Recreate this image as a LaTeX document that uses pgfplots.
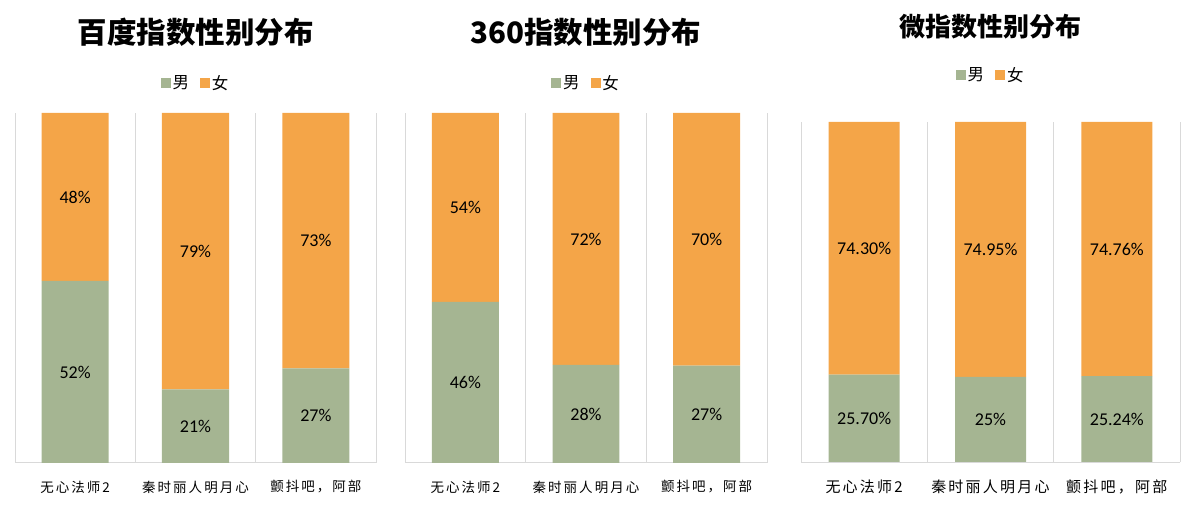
\documentclass[border=0pt]{standalone}
\usepackage{pgfplots}
\pgfplotsset{compat=1.18}
\usepackage{pgfplotstable}
\usepackage{fontspec}
\setmainfont{Noto Sans CJK SC}
\newfontfamily\tickfont[LetterSpace=15]{Noto Sans CJK SC}
\newfontfamily\numfont{Carlito}
\definecolor{mgreen}{RGB}{165,181,146}
\definecolor{forange}{RGB}{244,165,72}
\definecolor{gridgray}{RGB}{217,217,217}

\pgfplotstableread{
x m f
0 52 48
1 21 79
2 27 73
}\dataA
\pgfplotstableread{
x m f
0 46 54
1 28 72
2 27 70
}\dataB
\pgfplotstableread{
x m f
0 25.70 74.30
1 25 74.95
2 25.24 74.76
}\dataC

\pgfplotsset{
  panel/.style={
    anchor=south west, scale only axis,
    xmin=-0.5, xmax=2.5, ymin=0, ymax=100,
  },
  barpanel/.style={
    panel,
    ybar stacked,
    xtick={0,1,2},
    xticklabels={无心法师2,秦时丽人明月心,颤抖吧，阿部},
    axis y line=none, axis x line*=bottom,
    x axis line style={-, draw=gridgray, line width=1bp},
    xtick style={draw=none},
    minor xtick={-0.5,0.5,1.5,2.5},
    xminorgrids, minor grid style={draw=gridgray, line width=1bp},
    legend columns=2,
    legend image code/.code={\fill[##1] (0bp,-5bp) rectangle (10bp,5bp);},
    legend style={draw=none, fill=none, anchor=center,
      /tikz/every even column/.append style={column sep=9bp},
      /tikz/every odd column/.append style={column sep=0bp}},
    title style={anchor=center, font=\bfseries},
  },
  labelpanel/.style={
    panel, hide axis,
    only marks, mark=*, mark size=0pt,
  },
  labelplot/.style={
    mark options={draw=none, fill=none},
    point meta=explicit symbolic,
    nodes near coords={\pgfplotspointmeta\%},
    every node near coord/.style={anchor=center, font=\numfont\fontsize{18bp}{20bp}\selectfont, text=black},
  },
}

\begin{document}
\begin{tikzpicture}
\path[use as bounding box] (0,0) rectangle (1201bp,531bp);

% ---------- Panel 1 ----------
\begin{axis}[barpanel, at={(15bp,68bp)}, width=361bp, height=350bp,
  bar width=0.557,
  xticklabel style={anchor=center, yshift=-24bp, font=\tickfont\fontsize{13.5bp}{15bp}\selectfont},
  legend style={at={(axis description cs:0.5,1.086)}, font=\fontsize{16.5bp}{18bp}\selectfont},
  title={\fontsize{29.5bp}{32bp}\selectfont 百度指数性别分布},
  title style={at={(axis description cs:0.5,1.214)}},
]
\addplot[fill=mgreen, draw=none] table[x=x, y expr=100*\thisrow{m}/(\thisrow{m}+\thisrow{f})] \dataA;
\addplot[fill=forange, draw=none] table[x=x, y expr=100*\thisrow{f}/(\thisrow{m}+\thisrow{f})] \dataA;
\legend{男,女}
\end{axis}
\begin{axis}[labelpanel, at={(15bp,68bp)}, width=361bp, height=350bp]
\addplot[labelplot] table[x=x, y expr=50*\thisrow{m}/(\thisrow{m}+\thisrow{f}), meta=m] \dataA;
\addplot[labelplot] table[x=x, y expr=100*\thisrow{m}/(\thisrow{m}+\thisrow{f})+50*\thisrow{f}/(\thisrow{m}+\thisrow{f}), meta=f] \dataA;
\end{axis}

% ---------- Panel 2 ----------
\begin{axis}[barpanel, at={(405bp,68bp)}, width=362bp, height=350bp,
  bar width=0.555,
  xticklabel style={anchor=center, yshift=-24bp, font=\tickfont\fontsize{13.5bp}{15bp}\selectfont},
  legend style={at={(axis description cs:0.5,1.086)}, font=\fontsize{16.5bp}{18bp}\selectfont},
  title={\fontsize{29.5bp}{32bp}\selectfont 360指数性别分布},
  title style={at={(axis description cs:0.5,1.214)}},
]
\addplot[fill=mgreen, draw=none] table[x=x, y expr=100*\thisrow{m}/(\thisrow{m}+\thisrow{f})] \dataB;
\addplot[fill=forange, draw=none] table[x=x, y expr=100*\thisrow{f}/(\thisrow{m}+\thisrow{f})] \dataB;
\legend{男,女}
\end{axis}
\begin{axis}[labelpanel, at={(405bp,68bp)}, width=362bp, height=350bp]
\addplot[labelplot] table[x=x, y expr=50*\thisrow{m}/(\thisrow{m}+\thisrow{f}), meta=m] \dataB;
\addplot[labelplot] table[x=x, y expr=100*\thisrow{m}/(\thisrow{m}+\thisrow{f})+50*\thisrow{f}/(\thisrow{m}+\thisrow{f}), meta=f] \dataB;
\end{axis}

% ---------- Panel 3 ----------
\begin{axis}[barpanel, at={(801bp,69bp)}, width=379bp, height=340bp,
  bar width=0.562,
  xticklabel style={anchor=center, yshift=-25bp, font=\tickfont\fontsize{15bp}{17bp}\selectfont},
  legend style={at={(axis description cs:0.5,1.138)}, font=\fontsize{16.5bp}{18bp}\selectfont},
  title={\fontsize{26bp}{28bp}\selectfont 微指数性别分布},
  title style={at={(axis description cs:0.5,1.262)}},
]
\addplot[fill=mgreen, draw=none] table[x=x, y expr=100*\thisrow{m}/(\thisrow{m}+\thisrow{f})] \dataC;
\addplot[fill=forange, draw=none] table[x=x, y expr=100*\thisrow{f}/(\thisrow{m}+\thisrow{f})] \dataC;
\legend{男,女}
\end{axis}
\begin{axis}[labelpanel, at={(801bp,69bp)}, width=379bp, height=340bp]
\addplot[labelplot] table[x=x, y expr=50*\thisrow{m}/(\thisrow{m}+\thisrow{f}), meta=m] \dataC;
\addplot[labelplot] table[x=x, y expr=100*\thisrow{m}/(\thisrow{m}+\thisrow{f})+50*\thisrow{f}/(\thisrow{m}+\thisrow{f}), meta=f] \dataC;
\end{axis}
\end{tikzpicture}
\end{document}
